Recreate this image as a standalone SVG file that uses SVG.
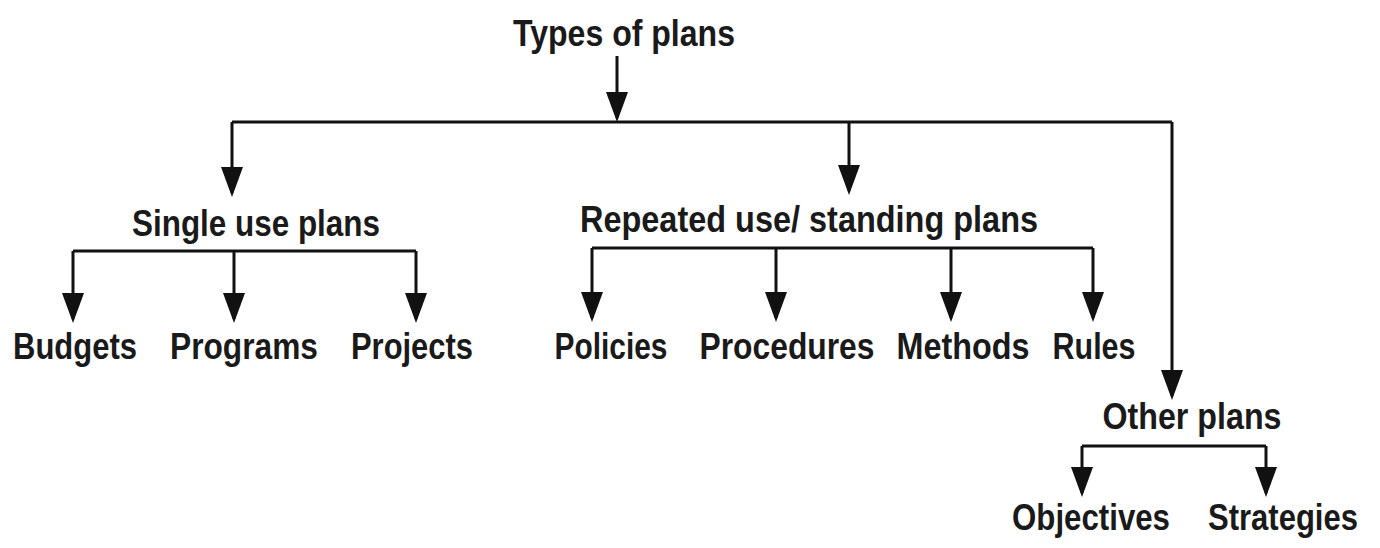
<svg xmlns="http://www.w3.org/2000/svg" width="1380" height="548" viewBox="0 0 1380 548">
<style>
.t{font-family:"Liberation Sans",Arial,sans-serif;font-size:37px;font-weight:bold;fill:#1a1a1a;text-anchor:middle}
.c{stroke:#111;stroke-width:3;fill:none}
.a{marker-end:url(#ah)}
</style>
<defs>
<marker id="ah" markerUnits="userSpaceOnUse" viewBox="0 0 30 24" markerWidth="30" markerHeight="24" refX="26" refY="12" orient="auto">
<path d="M0,1 L30,12 L0,23 Z" fill="#111"/>
</marker>
</defs>
<rect width="1380" height="548" fill="#fff"/>
<g id="connectors">
<path class="c a" d="M617,56 V118"/>
<path class="c" d="M232,122 H1172"/>
<path class="c a" d="M232,122 V193"/>
<path class="c a" d="M849,122 V191"/>
<path class="c a" d="M1172,122 V396"/>
<path class="c" d="M73,251 H416"/>
<path class="c a" d="M73,251 V319"/>
<path class="c a" d="M234,251 V319"/>
<path class="c a" d="M416,251 V319"/>
<path class="c" d="M592,248 H1093"/>
<path class="c a" d="M592,248 V318"/>
<path class="c a" d="M776,248 V318"/>
<path class="c a" d="M951,248 V318"/>
<path class="c a" d="M1093,248 V318"/>
<path class="c" d="M1082,446 H1266"/>
<path class="c a" d="M1082,446 V493"/>
<path class="c a" d="M1266,446 V493"/>
</g>
<g id="n-types"><text class="t" x="624" y="46" textLength="222" lengthAdjust="spacingAndGlyphs">Types of plans</text></g>
<g id="n-single"><text class="t" x="256" y="236" textLength="248" lengthAdjust="spacingAndGlyphs">Single use plans</text></g>
<g id="n-repeated"><text class="t" x="809" y="232" textLength="458" lengthAdjust="spacingAndGlyphs">Repeated use/ standing plans</text></g>
<g id="n-other"><text class="t" x="1192" y="429" textLength="179" lengthAdjust="spacingAndGlyphs">Other plans</text></g>
<g id="n-budgets"><text class="t" x="75" y="359" textLength="124" lengthAdjust="spacingAndGlyphs">Budgets</text></g>
<g id="n-programs"><text class="t" x="244" y="359" textLength="148" lengthAdjust="spacingAndGlyphs">Programs</text></g>
<g id="n-projects"><text class="t" x="412" y="359" textLength="122" lengthAdjust="spacingAndGlyphs">Projects</text></g>
<g id="n-policies"><text class="t" x="611" y="359" textLength="113" lengthAdjust="spacingAndGlyphs">Policies</text></g>
<g id="n-procedures"><text class="t" x="787" y="359" textLength="175" lengthAdjust="spacingAndGlyphs">Procedures</text></g>
<g id="n-methods"><text class="t" x="963" y="359" textLength="133" lengthAdjust="spacingAndGlyphs">Methods</text></g>
<g id="n-rules"><text class="t" x="1094" y="359" textLength="83" lengthAdjust="spacingAndGlyphs">Rules</text></g>
<g id="n-objectives"><text class="t" x="1091" y="530" textLength="158" lengthAdjust="spacingAndGlyphs">Objectives</text></g>
<g id="n-strategies"><text class="t" x="1283" y="530" font-size="35" textLength="150" lengthAdjust="spacingAndGlyphs">Strategies</text></g>
</svg>
